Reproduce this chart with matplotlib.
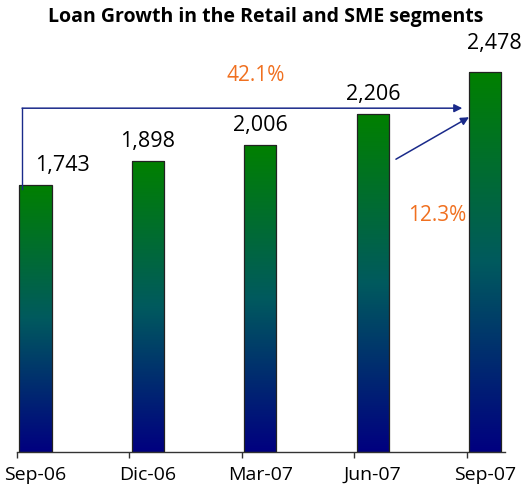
import matplotlib
matplotlib.use("Agg")
import matplotlib.pyplot as plt
import numpy as np
from matplotlib.colors import LinearSegmentedColormap

categories = ["Sep-06", "Dic-06", "Mar-07", "Jun-07", "Sep-07"]
values = [1743, 1898, 2006, 2206, 2478]
value_labels = ["1,743", "1,898", "2,006", "2,206", "2,478"]
growth_total = "42.1%"
growth_quarter = "12.3%"

fig = plt.figure(figsize=(5.31, 4.95), dpi=100)
ax = fig.add_axes([17/531, 43/495, 488/531, 429/495])

font = "Open Sans"
bar_off = 0.022
bar_w = 0.285
cmap = LinearSegmentedColormap.from_list("g", ["#000080", "#005a5e", "#008000"])
grad = np.linspace(0, 1, 256).reshape(-1, 1)

x = np.arange(len(categories))
bars = ax.bar(x + bar_off, values, width=bar_w, align="edge",
              facecolor="none", edgecolor="#222222", linewidth=0.9, zorder=3)
for b in bars:
    x0, y0 = b.get_x(), b.get_y()
    w, h = b.get_width(), b.get_height()
    im = ax.imshow(grad, extent=[x0, x0 + w, y0, y0 + h], origin="lower",
                   cmap=cmap, aspect="auto", zorder=2)
    im.set_clip_path(b)

x_offsets = [19.5, 0, 0, 0, 6.5]
y_offsets = [10, 10, 10, 10, 17]
for xi, v, lab, dx, dy in zip(x, values, value_labels, x_offsets, y_offsets):
    ax.annotate(lab, (xi + bar_off + bar_w / 2, v), xytext=(dx, dy),
                textcoords="offset points", ha="center", va="baseline",
                fontsize=15.5, family=font, color="black")

ax.set_xlim(0, 4.34)
ax.set_ylim(0, 2800)

# arrows
arrow_color = "#1a2a8a"
level = 2244
ax.plot([0.045, 0.045], [values[0] - 25, level], color=arrow_color, lw=1.0, zorder=4)
ax.annotate("", xy=(3.96, level), xytext=(0.045, level),
            arrowprops=dict(arrowstyle="-|>", color=arrow_color, lw=1.1,
                            mutation_scale=12, shrinkA=0, shrinkB=0), zorder=4)
ax.annotate("", xy=(4.02, 2185), xytext=(3.37, 1911),
            arrowprops=dict(arrowstyle="-|>", color=arrow_color, lw=1.1,
                            mutation_scale=12, shrinkA=0, shrinkB=0), zorder=4)
ax.text(2.12, 2459, growth_total, ha="center", va="center", fontsize=15,
        family=font, color="#f07020")
ax.text(3.74, 1546, growth_quarter, ha="center", va="center", fontsize=15,
        family=font, color="#f07020")

for s in ["top", "right", "left"]:
    ax.spines[s].set_visible(False)
ax.spines["bottom"].set_color("#333333")
ax.spines["bottom"].set_linewidth(1.0)
ax.set_yticks([])
ax.set_xticks(x)
ax.set_xticklabels([])
ax.tick_params(axis="x", which="major", direction="out", length=4.5, width=1.0, color="#333333")
ax.set_xticks(x + bar_off + bar_w / 2, minor=True)
ax.set_xticklabels(categories, minor=True, fontsize=14, family=font)
ax.tick_params(axis="x", which="minor", length=0, pad=10)

fig.text(0.5, 1 - 17/495, "Loan Growth in the Retail and SME segments",
         ha="center", va="center", fontsize=14, fontweight="bold", family=font)

fig.savefig("out.png", dpi=100)
